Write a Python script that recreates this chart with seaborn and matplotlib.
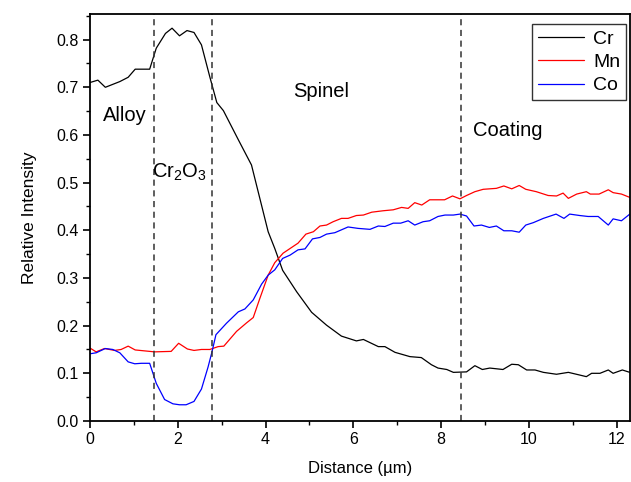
import numpy as np
import pandas as pd
import seaborn as sns
import matplotlib.pyplot as plt
from matplotlib.ticker import MultipleLocator

# line-scan data (distance in um, relative intensity)
cr_x = [0.00, 0.18, 0.35, 0.68, 0.87, 1.03, 1.36, 1.51, 1.72, 1.87, 2.04, 2.21, 2.37, 2.54,
        2.73, 2.89, 3.04, 3.38, 3.68, 4.06, 4.21, 4.39, 4.71, 5.05, 5.39, 5.73, 6.07, 6.23,
        6.57, 6.72, 6.95, 7.29, 7.55, 7.78, 7.93, 8.13, 8.28, 8.58, 8.77, 8.94, 9.11, 9.41,
        9.61, 9.76, 9.95, 10.14, 10.33, 10.63, 10.90, 11.13, 11.31, 11.43, 11.62, 11.81,
        11.92, 12.13, 12.30]
cr_y = [0.710, 0.715, 0.700, 0.712, 0.721, 0.738, 0.738, 0.782, 0.813, 0.824, 0.808, 0.819,
        0.815, 0.789, 0.722, 0.668, 0.651, 0.590, 0.537, 0.397, 0.362, 0.316, 0.271, 0.228,
        0.201, 0.178, 0.168, 0.171, 0.156, 0.156, 0.144, 0.135, 0.133, 0.118, 0.111, 0.108,
        0.102, 0.103, 0.116, 0.108, 0.111, 0.108, 0.119, 0.118, 0.107, 0.107, 0.102, 0.098,
        0.102, 0.097, 0.093, 0.100, 0.100, 0.107, 0.100, 0.107, 0.102]

mn_x = [0.00, 0.14, 0.33, 0.56, 0.71, 0.87, 1.03, 1.47, 1.85, 2.02, 2.22, 2.37, 2.54, 2.73,
        2.92, 3.05, 3.34, 3.57, 3.72, 3.87, 4.06, 4.21, 4.40, 4.74, 4.92, 5.09, 5.24, 5.39,
        5.54, 5.73, 5.88, 6.07, 6.23, 6.42, 6.68, 6.91, 7.10, 7.25, 7.40, 7.56, 7.74, 7.90,
        8.08, 8.26, 8.43, 8.58, 8.77, 8.96, 9.26, 9.43, 9.61, 9.78, 9.93, 10.17, 10.44,
        10.63, 10.78, 10.90, 11.09, 11.31, 11.40, 11.60, 11.81, 11.92, 12.11, 12.30]
mn_y = [0.153, 0.145, 0.152, 0.148, 0.150, 0.157, 0.149, 0.145, 0.146, 0.163, 0.151, 0.148,
        0.150, 0.150, 0.156, 0.157, 0.188, 0.206, 0.217, 0.257, 0.306, 0.332, 0.352, 0.373,
        0.392, 0.397, 0.409, 0.411, 0.418, 0.425, 0.425, 0.431, 0.432, 0.438, 0.441, 0.443,
        0.448, 0.446, 0.458, 0.453, 0.464, 0.464, 0.464, 0.472, 0.466, 0.473, 0.481, 0.486,
        0.488, 0.493, 0.487, 0.494, 0.486, 0.481, 0.473, 0.472, 0.478, 0.467, 0.476, 0.481,
        0.476, 0.476, 0.485, 0.479, 0.476, 0.469]

co_x = [0.00, 0.14, 0.35, 0.52, 0.68, 0.87, 1.02, 1.17, 1.36, 1.51, 1.70, 1.89, 2.04, 2.19,
        2.37, 2.54, 2.69, 2.78, 2.87, 3.11, 3.38, 3.53, 3.72, 3.91, 4.06, 4.21, 4.39, 4.56,
        4.74, 4.90, 5.07, 5.24, 5.39, 5.58, 5.73, 5.88, 6.11, 6.38, 6.57, 6.72, 6.91, 7.08,
        7.25, 7.40, 7.59, 7.74, 7.93, 8.09, 8.28, 8.43, 8.58, 8.75, 8.92, 9.10, 9.26, 9.43,
        9.61, 9.78, 9.93, 10.10, 10.33, 10.62, 10.80, 10.93, 11.16, 11.35, 11.58, 11.81,
        11.92, 12.11, 12.30]
co_y = [0.141, 0.143, 0.152, 0.150, 0.143, 0.124, 0.120, 0.121, 0.121, 0.079, 0.045, 0.036,
        0.034, 0.034, 0.041, 0.067, 0.113, 0.145, 0.181, 0.205, 0.229, 0.235, 0.254, 0.287,
        0.306, 0.317, 0.341, 0.348, 0.359, 0.361, 0.382, 0.385, 0.392, 0.395, 0.401, 0.407,
        0.404, 0.402, 0.409, 0.408, 0.415, 0.415, 0.420, 0.411, 0.418, 0.420, 0.429, 0.432,
        0.432, 0.434, 0.430, 0.409, 0.411, 0.406, 0.409, 0.399, 0.399, 0.396, 0.411, 0.416,
        0.425, 0.434, 0.425, 0.434, 0.431, 0.429, 0.429, 0.411, 0.424, 0.420, 0.434]

boundaries = [1.46, 2.78, 8.45]
zone_labels = ["Alloy", "Cr$_2$O$_3$", "Spinel", "Coating"]
zone_pos = [(0.80, 0.64), (2.03, 0.522), (5.26, 0.692), (9.52, 0.61)]

df = pd.concat([
    pd.DataFrame({"Distance": cr_x, "Intensity": cr_y, "Element": "Cr"}),
    pd.DataFrame({"Distance": mn_x, "Intensity": mn_y, "Element": "Mn"}),
    pd.DataFrame({"Distance": co_x, "Intensity": co_y, "Element": "Co"}),
])

sns.set_style("ticks")
plt.rcParams['font.family'] = ['Liberation Sans', 'DejaVu Sans']
plt.rcParams['mathtext.fontset'] = 'custom'
plt.rcParams['mathtext.rm'] = 'Liberation Sans'
plt.rcParams['text.color'] = 'black'
plt.rcParams['axes.labelcolor'] = 'black'
plt.rcParams['xtick.color'] = 'black'
plt.rcParams['ytick.color'] = 'black'

fig = plt.figure(figsize=(6.31, 4.82), dpi=100)
ax = fig.add_axes([0.1426, 0.1266, 0.8555, 0.8446])

sns.lineplot(data=df, x="Distance", y="Intensity", hue="Element",
             palette={"Cr": "black", "Mn": "red", "Co": "blue"},
             estimator=None, sort=False, linewidth=0.9, ax=ax)

for b in boundaries:
    ax.axvline(b, color="#333333", linestyle=(0, (4, 3)), linewidth=1.1)

for lab, (px, py) in zip(zone_labels, zone_pos):
    ax.text(px, py, lab, ha="center", va="center", fontsize=14.5, color="black")

ax.set_xlim(0, 12.3)
ax.set_ylim(0, 0.854)
ax.xaxis.set_major_locator(MultipleLocator(2))
ax.xaxis.set_minor_locator(MultipleLocator(1))
ax.yaxis.set_major_locator(MultipleLocator(0.1))
ax.yaxis.set_minor_locator(MultipleLocator(0.05))
ax.yaxis.set_major_formatter(plt.FormatStrFormatter("%.1f"))
ax.tick_params(which="major", direction="out", length=5, width=1.2, labelsize=11.5,
               color="black", labelcolor="black", pad=3)
ax.tick_params(which="minor", direction="out", length=3, width=1.0, color="black")
for sp in ax.spines.values():
    sp.set_linewidth(1.3)
    sp.set_color("black")

ax.set_xlabel("Distance (µm)", fontsize=12, labelpad=10, color="black")
ax.set_ylabel("Relative Intensity", fontsize=12.5, labelpad=14, color="black")

leg = ax.legend(loc="upper right", fontsize=14, frameon=True, fancybox=False,
                handlelength=2.4, handletextpad=0.45, borderpad=0.3, labelspacing=0.3,
                borderaxespad=0, bbox_to_anchor=(0.993, 0.975))
leg.get_frame().set_edgecolor("black")
leg.get_frame().set_linewidth(1.0)
for t in leg.get_texts():
    t.set_color("black")

fig.savefig("out.png", dpi=100)
